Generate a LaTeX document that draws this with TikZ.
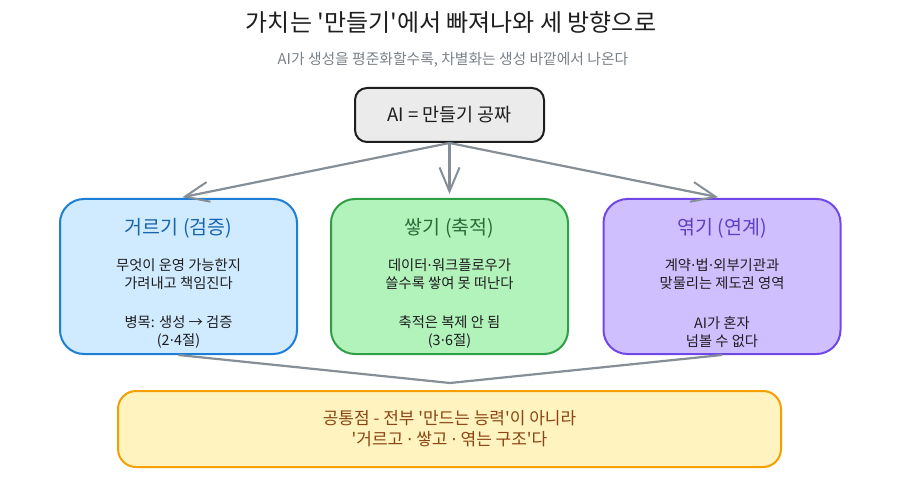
\documentclass[tikz,border=0pt]{standalone}
\usepackage{fontspec}
\setmainfont{Noto Sans CJK KR}
\newfontfamily\dotfont{DejaVu Sans}
\usetikzlibrary{arrows.meta}
\definecolor{Lfilter}{HTML}{1C7ED6}\definecolor{Ffilter}{HTML}{D0EBFF}\definecolor{Tfilter}{HTML}{1864AB}
\definecolor{Lstack}{HTML}{2F9E44}\definecolor{Fstack}{HTML}{B2F2BB}\definecolor{Tstack}{HTML}{2B6B3A}
\definecolor{Lweave}{HTML}{7048E8}\definecolor{Fweave}{HTML}{D0BFFF}\definecolor{Tweave}{HTML}{5F3DC4}
\definecolor{linkgray}{HTML}{868E96}\definecolor{ink}{HTML}{1E1E1E}
\definecolor{Lcommon}{HTML}{F59F00}\definecolor{Fcommon}{HTML}{FFF3BF}\definecolor{Tcommon}{HTML}{8A4513}
\newcommand\md{{\dotfont ·}}
\newcommand\q{\textquotesingle}
\begin{document}
\begin{tikzpicture}[x=1pt,y=-1pt,
box/.style={draw,rounded corners=24pt,line width=2pt,minimum width=237pt,minimum height=155pt,inner sep=0},
boxtitle/.style={font=\fontsize{19.5}{23}\selectfont},
body/.style={align=center,text=ink,font=\fontsize{14.3}{18.5}\selectfont},
link/.style={draw=linkgray,line width=2.2pt},
tip/.style={-{Straight Barb[length=24pt,width=20pt,line width=2pt]},shorten >=4pt}]
\useasboundingbox(0,0)rectangle(900,481);
\node[text=ink,font=\fontsize{24}{28}\selectfont](title)at(451,22){가치는 \q{}만들기\q{}에서 빠져나와 세 방향으로};
\node[text=linkgray!90!black,font=\fontsize{14.8}{17}\selectfont](sub)at(453,60){AI가 생성을 평준화할수록, 차별화는 생성 바깥에서 나온다};
\node[draw=ink,fill=black!8,line width=2pt,rounded corners=12pt,minimum width=189pt,minimum height=54pt,
  text=ink,font=\fontsize{18.5}{20}\selectfont](ai)at(449.5,115){AI = 만들기 공짜};
\foreach \n/\x/\ttl/\da/\db/\na/\nb in {
  filter/178.5/{거르기 (검증)}/{무엇이 운영 가능한지}/{가려내고 책임진다}/{병목: 생성 → 검증}/{(2\md{}4절)},
  stack/449.5/{쌓기 (축적)}/{데이터\md{}워크플로우가}/{쓸수록 쌓여 못 떠난다}/{축적은 복제 안 됨}/{(3\md{}6절)},
  weave/722/{엮기 (연계)}/{계약\md{}법\md{}외부기관과}/{맞물리는 제도권 영역}/{AI가 혼자}/{넘볼 수 없다}}{
  \node[box,draw=L\n,fill=F\n](\n)at(\x,276.5){};
  \node[boxtitle,text=T\n](\n t)at(\x,228){\ttl};
  \node[body](\n d)at(\x,274){\da\\\db};
  \node[body](\n n)at(\x,332){\na\\\nb};
  \draw[link,tip](ai.south)--(\n.north);
}
\node[draw=Lcommon,fill=Fcommon,line width=2pt,rounded corners=18pt,minimum width=663pt,minimum height=76pt,
  align=center,text=Tcommon,font=\fontsize{17}{21}\selectfont](common)at(449.5,429){공통점 - 전부 \q{}만드는 능력\q{}이 아니라\\\q{}거르고 \md{} 쌓고 \md{} 엮는 구조\q{}다};
\coordinate(meet)at(450,383);
\draw[link](filter.south)--(meet)--(weave.south);
\end{tikzpicture}
\end{document}
